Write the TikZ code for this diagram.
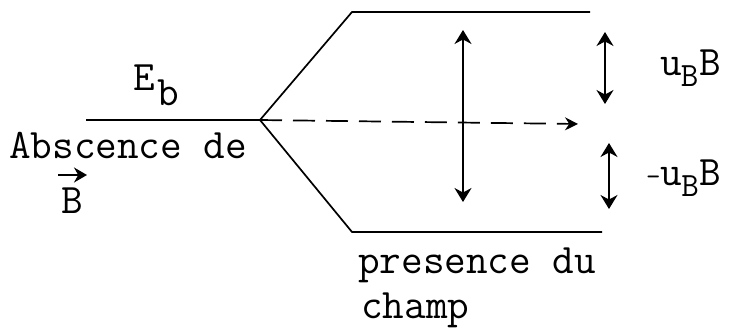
\documentclass[tikz,border=0pt]{standalone}
\usepackage{fontspec}
\usetikzlibrary{arrows.meta}
\begin{document}
\begin{tikzpicture}[x=1pt,y=-1pt,
  level/.style={line width=1.7pt},
  dbl/.style={line width=1.7pt,{Stealth[length=14pt,width=17pt]}-{Stealth[length=14pt,width=17pt]}},
  lbl/.style={inner sep=0pt,anchor=base west,font=\ttfamily\fontsize{42}{44}\selectfont}]
\useasboundingbox (0,0) rectangle (734,332);
% levels
\coordinate (L) at (86,120);
\coordinate (J) at (260,120);
\coordinate (U1) at (352,12);
\coordinate (U2) at (590,12);
\coordinate (D1) at (352,232);
\coordinate (D2) at (602,232);
\draw[level] (L) -- (J);
\draw[level] (J) -- (U1) -- (U2);
\draw[level] (J) -- (D1) -- (D2);
\coordinate (DE) at (578,124);
\draw[line width=1.7pt,dash pattern=on 22pt off 11pt,-{Stealth[length=13pt,width=13pt]}] (J) -- (DE);
% double arrows
\coordinate (A1t) at (463,30);
\coordinate (A1b) at (463,202);
\draw[dbl] (A1t) -- (A1b);
\coordinate (A2t) at (605,32);
\coordinate (A2b) at (605,104);
\draw[dbl] (A2t) -- (A2b);
\coordinate (A3t) at (609,143);
\coordinate (A3b) at (609,209);
\draw[dbl] (A3t) -- (A3b);
% labels
\node[lbl] (Eb) at (133,90) {E\kern3pt\raisebox{-15pt}{b}};
\node[lbl] (abs) at (9,158) {Abscence de};
\node[lbl] (B) at (61,213) {B};
\coordinate (Bv1) at (58,175);
\coordinate (Bv2) at (87,175);
\draw[line width=2pt,-{Stealth[length=13pt,width=15pt]}] (Bv1) -- (Bv2);
\node[lbl] (uB) at (660,75) {u\kern-1pt\raisebox{-11pt}{\fontsize{34}{34}\selectfont B}\kern1pt B};
\node[lbl] (muB) at (646,185) {{\fontsize{28}{28}\selectfont -}u\kern-1pt\raisebox{-11pt}{\fontsize{34}{34}\selectfont B}\kern1pt B};
\node[lbl] (pres) at (358,273) {presence du};
\node[lbl] (champ) at (361,318) {champ};
\end{tikzpicture}
\end{document}
